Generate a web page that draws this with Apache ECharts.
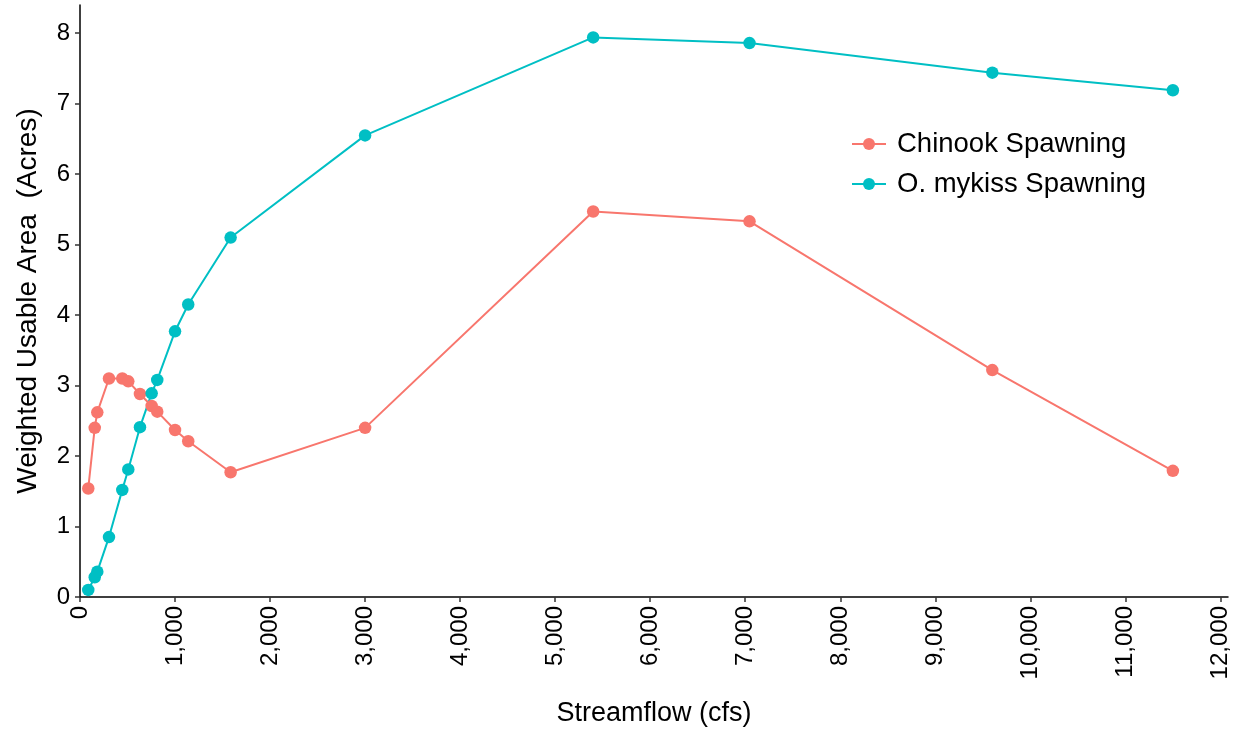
<!DOCTYPE html>
<html>
<head>
<meta charset="utf-8">
<script src="https://cdn.jsdelivr.net/npm/echarts@6/dist/echarts.min.js"></script>
<style>html,body{margin:0;padding:0;background:#fff;}#c{width:1239px;height:732px;}</style>
</head>
<body>
<div id="c"></div>
<script>
const flows = [87, 155, 182, 305, 445, 508, 631, 754, 813, 1000, 1139, 1585, 3000, 5400, 7045, 9600, 11500];
const chinook = [1.54, 2.40, 2.62, 3.10, 3.10, 3.06, 2.88, 2.71, 2.63, 2.37, 2.21, 1.77, 2.40, 5.47, 5.33, 3.22, 1.79];
const mykiss = [0.10, 0.28, 0.36, 0.85, 1.52, 1.81, 2.41, 2.89, 3.08, 3.77, 4.15, 5.10, 6.55, 7.94, 7.86, 7.44, 7.19];
const xTicks = [0, 1000, 2000, 3000, 4000, 5000, 6000, 7000, 8000, 9000, 10000, 11000, 12000];
const yTicks = [0, 1, 2, 3, 4, 5, 6, 7, 8];
const seriesNames = ['Chinook Spawning', 'O. mykiss Spawning'];
const colors = ['#F8766D', '#00BFC4'];

const font = 'Liberation Sans, Arial, sans-serif';
const chart = echarts.init(document.getElementById('c'));
const mk = (vals) => flows.map((f, i) => [f, vals[i]]);
chart.setOption({
  animation: false,
  backgroundColor: '#fff',
  grid: { left: 80, right: 11, top: 5, bottom: 134, containLabel: false },
  legend: {
    orient: 'vertical', left: 846, top: 125, itemWidth: 34, itemHeight: 15, itemGap: 12,
    textStyle: { fontFamily: font, fontSize: 27.5, color: '#000', padding: [0, 0, 0, 6] },
    data: seriesNames
  },
  xAxis: {
    type: 'value', min: 0, max: 12080,
    name: 'Streamflow (cfs)', nameLocation: 'middle', nameGap: 103,
    nameTextStyle: { fontFamily: font, fontSize: 27, color: '#000' },
    axisLine: { show: true, lineStyle: { color: '#000', width: 1.5 } },
    axisTick: { show: true, length: 5, lineStyle: { color: '#333', width: 1.5 }, customValues: xTicks },
    axisLabel: { rotate: 90, margin: 9, fontFamily: font, fontSize: 24, color: '#000', customValues: xTicks,
      formatter: v => v.toLocaleString('en-US') },
    splitLine: { show: false }
  },
  yAxis: {
    type: 'value', min: 0, max: 8.4,
    name: 'Weighted Usable Area  (Acres)', nameLocation: 'middle', nameGap: 38,
    nameTextStyle: { fontFamily: font, fontSize: 28, color: '#000' },
    axisLine: { show: true, lineStyle: { color: '#000', width: 1.5 } },
    axisTick: { show: true, length: 5, lineStyle: { color: '#333', width: 1.5 }, customValues: yTicks },
    axisLabel: { margin: 10, fontFamily: font, fontSize: 24, color: '#000', customValues: yTicks },
    splitLine: { show: false }
  },
  series: [
    { name: seriesNames[0], type: 'line', data: mk(chinook), symbol: 'circle', symbolSize: 12.5,
      lineStyle: { width: 2, color: colors[0] }, itemStyle: { color: colors[0] } },
    { name: seriesNames[1], type: 'line', data: mk(mykiss), symbol: 'circle', symbolSize: 12.5,
      lineStyle: { width: 2, color: colors[1] }, itemStyle: { color: colors[1] } }
  ]
});
</script>
</body>
</html>
